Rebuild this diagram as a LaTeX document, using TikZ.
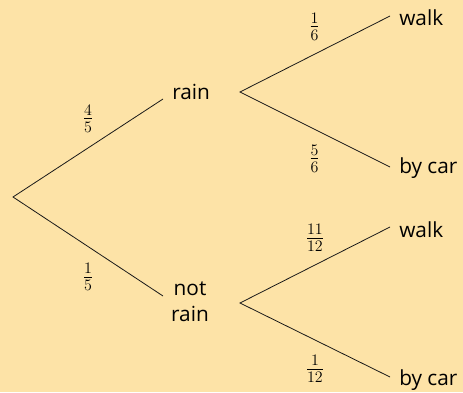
\documentclass[tikz,border=0pt]{standalone}
\usepackage{fontspec}
\setmainfont{Open Sans}
\definecolor{bg}{RGB}{253,227,167}
\begin{document}
\begin{tikzpicture}[x=0.75pt,y=-0.75pt,
  branch/.style={line width=0.6pt, black!90},
  lbl/.style={inner sep=0pt, anchor=base west, font=\fontsize{15.6}{19.5}\selectfont},
  prob/.style={inner sep=0pt, anchor=center, font=\fontsize{18}{22}\selectfont}]
\fill[bg] (0,0) rectangle (463,392);
\useasboundingbox (0,0) rectangle (463,392);
% branch points
\coordinate (root) at (13,197);
\coordinate (rainIn) at (163,99);
\coordinate (rainOut) at (240,92);
\coordinate (notIn) at (163,296);
\coordinate (notOut) at (240,303);
\coordinate (walkA) at (390,16);
\coordinate (carA) at (390,167);
\coordinate (walkB) at (390,227);
\coordinate (carB) at (390,377);
% labels
\node[lbl] (rain) at (172,100) {rain};
\node[inner sep=0pt, anchor=center, align=center, font=\fontsize{15.6}{19.5}\selectfont] (notrain) at (190,302) {not\\rain};
\node[lbl] (walk1) at (399,26) {walk};
\node[lbl] (car1) at (399,173) {by car};
\node[lbl] (walk2) at (399,237) {walk};
\node[lbl] (car2) at (399,385) {by car};
% edges
\draw[branch] (rainIn) -- (root) -- (notIn);
\draw[branch] (walkA) -- (rainOut) -- (carA);
\draw[branch] (walkB) -- (notOut) -- (carB);
% probabilities
\node[prob] (p1) at (88,118.5) {$\frac{4}{5}$};
\node[prob] (p2) at (88,277) {$\frac{1}{5}$};
\node[prob] (p3) at (314.5,26.7) {$\frac{1}{6}$};
\node[prob] (p4) at (314.5,158.5) {$\frac{5}{6}$};
\node[prob] (p5) at (315,238) {$\frac{11}{12}$};
\node[prob] (p6) at (315,369) {$\frac{1}{12}$};
\end{tikzpicture}
\end{document}
